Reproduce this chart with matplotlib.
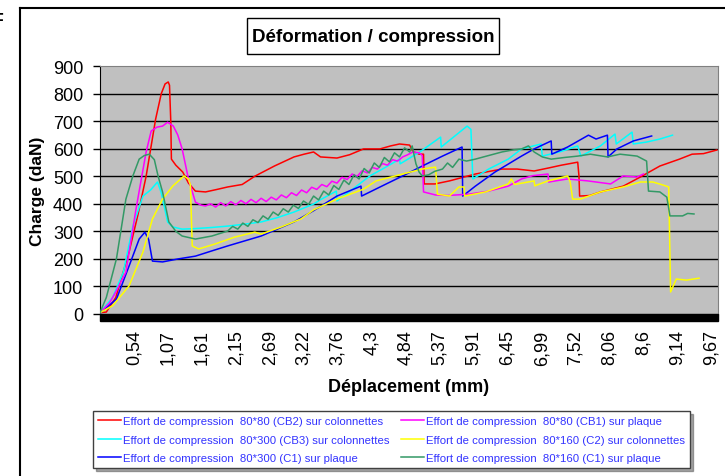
import numpy as np
import matplotlib.pyplot as plt
from matplotlib.patches import Rectangle

plt.rcParams['font.family'] = ['Liberation Sans', 'DejaVu Sans']

# courbes (x en mm, y en daN)
red_x = [0.0, 0.10, 0.25, 0.46, 0.60, 0.73, 0.88, 0.97, 1.03, 1.08, 1.10, 1.12, 1.13, 1.20, 1.31, 1.40, 1.51, 1.67,
         1.85, 2.02, 2.25, 2.45, 2.76, 3.07, 3.23, 3.38, 3.49, 3.75, 3.95, 4.17, 4.43, 4.60, 4.74, 4.90, 4.95, 5.05,
         5.12, 5.13, 5.30, 5.53, 5.94, 6.36, 6.60, 6.87, 7.10, 7.30, 7.56, 7.58, 7.59, 7.75, 7.92, 8.28, 8.55, 8.86,
         9.17, 9.37, 9.55, 9.76]
red_y = [5, 7, 60, 225, 360, 500, 707, 800, 835, 842, 830, 700, 562, 540, 515, 475, 446, 443,
         452, 461, 470, 500, 537, 570, 580, 588, 570, 566, 578, 599, 599, 610, 617, 613, 590, 580,
         580, 472, 472, 483, 508, 526, 526, 519, 530, 540, 551, 500, 428, 430, 443, 464, 497, 537,
         562, 580, 582, 595]

mag_x = [0.0, 0.15, 0.25, 0.41, 0.57, 0.73, 0.81, 0.90, 0.99, 1.07, 1.16, 1.23, 1.30, 1.40, 1.51, 1.60, 1.67, 1.75,
         1.83, 1.91, 1.99, 2.07, 2.15, 2.23, 2.31, 2.39, 2.47, 2.55, 2.63, 2.71, 2.79, 2.87, 2.95, 3.03, 3.11, 3.19,
         3.27, 3.35, 3.43, 3.51, 3.59, 3.67, 3.75, 3.83, 3.91, 3.99, 4.07, 4.15, 4.23, 4.31, 4.39, 4.47, 4.55, 4.63,
         4.71, 4.79, 4.87, 4.95, 5.05, 5.10, 5.12, 5.31, 5.50, 5.84, 6.15, 6.46, 6.67, 6.85, 7.09, 7.10, 7.40, 7.72,
         8.08, 8.28, 8.50, 8.60]
mag_y = [5, 40, 80, 152, 381, 588, 664, 678, 682, 696, 682, 650, 599, 490, 406, 395, 392, 400,
         388, 404, 392, 408, 396, 412, 400, 416, 404, 420, 408, 424, 414, 432, 422, 440, 430, 450,
         440, 460, 452, 470, 462, 482, 475, 496, 488, 508, 500, 520, 512, 532, 526, 546, 540, 560,
         555, 570, 578, 588, 585, 575, 443, 432, 430, 435, 446, 464, 490, 502, 508, 479, 490, 483,
         472, 501, 497, 508]

cyan_x = [0.0, 0.20, 0.37, 0.52, 0.68, 0.80, 0.91, 0.97, 1.07, 1.15, 1.30, 1.51, 1.77, 2.02, 2.29, 2.55, 2.81, 3.07,
          3.23, 3.38, 3.49, 3.74, 3.75, 4.01, 4.27, 4.50, 4.74, 4.75, 5.06, 5.39, 5.40, 5.81, 5.87, 5.90, 6.15, 6.46,
          6.67, 6.98, 7.00, 7.30, 7.56, 7.61, 7.92, 8.15, 8.17, 8.42, 8.44, 8.65, 8.86, 9.06]
cyan_y = [5, 60, 152, 319, 428, 450, 479, 440, 334, 316, 308, 310, 314, 319, 326, 334, 350, 370,
          385, 399, 415, 446, 410, 455, 501, 530, 562, 545, 588, 642, 606, 682, 670, 490, 526, 562,
          599, 617, 573, 590, 610, 573, 610, 653, 617, 660, 617, 624, 635, 649]

yel_x = [0.0, 0.20, 0.46, 0.68, 0.83, 0.99, 1.15, 1.33, 1.40, 1.43, 1.46, 1.56, 1.82, 2.13, 2.45, 2.55, 2.87, 3.18,
         3.38, 3.75, 4.17, 4.37, 4.79, 5.10, 5.31, 5.34, 5.53, 5.68, 5.76, 5.77, 6.10, 6.46, 6.51, 6.56, 6.87, 6.88,
         7.09, 7.40, 7.44, 7.48, 7.60, 7.92, 8.28, 8.55, 8.75, 8.91, 9.00, 9.03, 9.12, 9.28, 9.48]
yel_y = [5, 30, 102, 225, 345, 417, 464, 501, 490, 470, 247, 236, 254, 279, 297, 290, 316, 345,
         378, 417, 453, 483, 508, 526, 533, 435, 428, 461, 461, 428, 443, 472, 490, 470, 483, 465,
         483, 501, 480, 417, 417, 443, 461, 479, 479, 468, 461, 80, 127, 123, 130]

blue_x = [0.0, 0.26, 0.46, 0.62, 0.71, 0.77, 0.83, 0.99, 1.24, 1.51, 1.77, 2.02, 2.55, 3.07, 3.38, 3.75, 4.13, 4.14,
          4.53, 4.79, 5.10, 5.42, 5.73, 5.74, 5.94, 6.25, 6.67, 6.87, 7.14, 7.15, 7.40, 7.73, 7.85, 8.03, 8.04, 8.18,
          8.44, 8.73]
blue_y = [3, 54, 174, 272, 297, 270, 192, 189, 200, 210, 229, 247, 283, 334, 375, 428, 464, 428,
          472, 501, 537, 573, 606, 428, 464, 515, 573, 599, 628, 580, 606, 649, 635, 649, 570, 599,
          628, 646]

green_x = [0.0, 0.10, 0.26, 0.41, 0.52, 0.62, 0.70, 0.78, 0.86, 0.92, 0.99, 1.09, 1.20, 1.30, 1.51, 1.77, 2.02,
           2.10, 2.18, 2.26, 2.34, 2.42, 2.50, 2.58, 2.66, 2.74, 2.82, 2.90, 2.98, 3.06, 3.14, 3.22, 3.30, 3.38,
           3.46, 3.54, 3.62, 3.70, 3.78, 3.86, 3.94, 4.02, 4.10, 4.18, 4.26, 4.34, 4.42, 4.50, 4.58, 4.66, 4.74,
           4.82, 4.90, 4.94, 5.00, 5.05, 5.10, 5.20, 5.30, 5.42, 5.50, 5.58, 5.68, 5.80, 5.94, 6.10, 6.36, 6.55,
           6.67, 6.78, 6.87, 7.00, 7.14, 7.35, 7.56, 7.76, 8.03, 8.23, 8.50, 8.65, 8.68, 8.86, 8.97, 9.02, 9.22,
           9.30, 9.40]
green_y = [5, 60, 200, 417, 501, 562, 575, 580, 560, 500, 443, 334, 300, 283, 272, 283, 301,
           318, 308, 330, 318, 342, 332, 356, 344, 370, 358, 382, 370, 395, 383, 410, 398, 428,
           414, 446, 432, 466, 452, 486, 470, 505, 490, 528, 512, 548, 532, 568, 552, 585, 570,
           603, 588, 610, 545, 515, 501, 505, 518, 526, 548, 532, 562, 555, 562, 572, 588, 596,
           599, 610, 588, 570, 562, 568, 573, 580, 570, 580, 573, 555, 446, 443, 424, 356, 356,
           365, 363]

tick_pos = [0.54, 1.07, 1.61, 2.15, 2.69, 3.22, 3.76, 4.3, 4.84, 5.37, 5.91, 6.45, 6.99, 7.52, 8.06, 8.6, 9.14, 9.67]
tick_txt = ['0,54', '1,07', '1,61', '2,15', '2,69', '3,22', '3,76', '4,3', '4,84', '5,37', '5,91', '6,45',
            '6,99', '7,52', '8,06', '8,6', '9,14', '9,67']

series = [
    (red_x, red_y, '#FF0000', 'Effort de compression  80*80 (CB2) sur colonnettes'),
    (cyan_x, cyan_y, '#00FFFF', 'Effort de compression  80*300 (CB3) sur colonnettes'),
    (blue_x, blue_y, '#0000FF', 'Effort de compression  80*300 (C1) sur plaque'),
    (mag_x, mag_y, '#FF00FF', 'Effort de compression  80*80 (CB1) sur plaque'),
    (yel_x, yel_y, '#FFFF00', 'Effort de compression  80*160 (C2) sur colonnettes'),
    (green_x, green_y, '#339966', 'Effort de compression  80*160 (C1) sur plaque'),
]

fig = plt.figure(figsize=(7.25, 4.77), dpi=100)
ax = fig.add_axes([100 / 725, 1 - 315 / 477, 618 / 725, 248 / 477])

# cadre extérieur
fig.add_artist(plt.Line2D([20 / 725, 20 / 725], [0, 1 - 9 / 477], color='black', lw=1.5))
fig.add_artist(plt.Line2D([20 / 725, 1], [1 - 9 / 477, 1 - 9 / 477], color='black', lw=1.5))
fig.text(-0.012, 1 - 22 / 477, 'F', fontsize=14, fontweight='bold', va='center')

ax.set_facecolor('#C0C0C0')
for y in range(100, 900, 100):
    ax.axhline(y, color='black', lw=1, zorder=1)

lines = []
for xs, ys, c, lab in series:
    l, = ax.plot(xs, ys, color=c, lw=1.1, label=lab, zorder=3)
    lines.append(l)

ax.set_xlim(0, 9.78)
ax.set_ylim(0, 900)
ax.set_yticks(range(0, 901, 100))
ax.tick_params(axis='y', labelsize=13, length=5, width=1, direction='out', pad=7)
ax.set_xticks(tick_pos)
ax.set_xticklabels(tick_txt, rotation=90, fontsize=13)
ax.tick_params(axis='x', length=0, pad=11)
for s in ['top', 'right', 'bottom']:
    ax.spines[s].set_color('#808080')
ax.spines['left'].set_color('black')

# bande noire sous l'axe des x
ax.add_patch(Rectangle((0, -0.028), 1, 0.028, transform=ax.transAxes, color='black', clip_on=False, zorder=5))

ax.set_ylabel('Charge (daN)', fontsize=12.5, fontweight='bold')
ax.yaxis.set_label_coords(-(100 - 45) / 618, 0.5)
ax.set_xlabel('Déplacement (mm)', fontsize=13, fontweight='bold', labelpad=10)

# titre dans un cadre
fig.add_artist(Rectangle((247 / 725, 1 - 55 / 477), 252 / 725, 36 / 477, transform=fig.transFigure,
                         facecolor='white', edgecolor='black', lw=1))
fig.text(373 / 725, 1 - 37 / 477, 'Déformation / compression', fontsize=13.5, fontweight='bold',
         ha='center', va='center')

leg = fig.legend(handles=lines, loc='upper left', bbox_to_anchor=(93 / 725, 1 - 412 / 477), ncol=2,
                 fontsize=8.2, frameon=True, fancybox=False, shadow=True, handlelength=2.0,
                 handletextpad=0.2, columnspacing=1.0, labelspacing=0.75, borderpad=0.45,
                 borderaxespad=0, labelcolor='#3333FF')
leg.get_frame().set_edgecolor('#404040')
leg.get_frame().set_linewidth(1)

fig.savefig('out.png', dpi=100)
